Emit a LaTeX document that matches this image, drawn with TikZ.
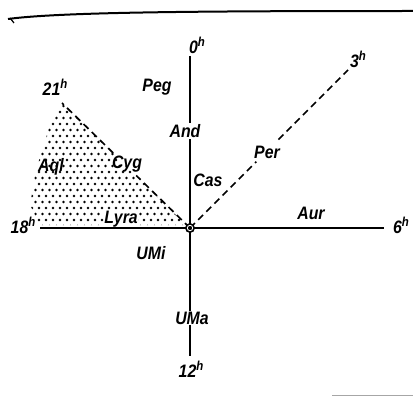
\documentclass[tikz,border=0pt]{standalone}
\usepackage{fontspec}
\setmainfont{Liberation Sans}
\newfontfamily\lblfont[FakeStretch=0.88]{Liberation Sans}
\usetikzlibrary{calc}
\newcommand{\hrs}{\raisebox{7pt}{\fontsize{13}{13}\selectfont h}}
\begin{document}
\begin{tikzpicture}[x=1pt,y=-1pt,
  lbl/.style={font=\lblfont\fontsize{18}{20}\selectfont\bfseries\itshape, inner sep=1pt},
  axis/.style={line width=2.2pt},
  dashline/.style={line width=1.7pt, dash pattern=on 7pt off 4.5pt},
  hr/.style={font=\lblfont\fontsize{18}{20}\selectfont\bfseries\itshape, inner sep=1pt}]
\useasboundingbox (0,0) rectangle (413,396);
% dotted region
\begin{scope}
\clip (62,103) -- (50,125) -- (36,170) -- (30,205) -- (40,225) -- (186,225) -- cycle;
\foreach \r in {0,...,21} {
  \pgfmathsetmacro{\yy}{100+\r*6}
  \pgfmathsetmacro{\off}{mod(\r,2)*3.5}
  \foreach \k in {0,...,24} {
    \fill (25+\off+\k*7,\yy) circle (1.4);
  }
}
\end{scope}
% top rule
\draw[line width=2pt] (8,19) .. controls (60,12) and (200,11) .. (413,11);
\draw[line width=1.2pt] (10,18) -- (14,23);
% bottom-right thin rule
\draw[gray!70, line width=1pt] (332,395) -- (413,395);
% centre
\coordinate (c) at (190,228);
% labels
\node[hr] (h0) at (197,45) {0\hrs};
\node[hr] (h3) at (358,59) {3\hrs};
\node[hr] (h6) at (401,225) {6\hrs};
\node[hr] (h12) at (191,369) {12\hrs};
\node[hr] (h18) at (23,225) {18\hrs};
\node[hr] (h21) at (55,87) {21\hrs};
\node[lbl] (peg) at (157,87) {Peg};
\node[lbl] (and) at (185,131) {And};
\node[lbl] (cas) at (208,180) {Cas};
\node[lbl] (per) at (267,152) {Per};
\node[lbl] (aur) at (311,213) {Aur};
\node[lbl] (cyg) at (127,164) {Cyg};
\node[lbl] (aql) at (51,167) {Aql};
\node[lbl, fill=white, inner sep=0.5pt] (lyr) at (121,219) {Lyra};
\node[lbl] (umi) at (151,253) {UMi};
\node[lbl] (uma) at (192,318) {UMa};
% axes
\coordinate (top) at (190,56);
\coordinate (bot) at (190,356);
\coordinate (left) at (40,228);
\coordinate (right) at (384,228);
\coordinate (e21) at (62,103);
\coordinate (e3) at (348,70);
\draw[axis] (top) -- (and.north -| top);
\draw[axis] (and.south -| top) -- (c);
\draw[axis] (c) -- (uma.north -| c);
\draw[axis] (uma.south -| c) -- (bot);
\draw[axis] (left) -- (right);
\draw[dashline] (c) -- ($(c)!0.42!(e21)$);
\draw[dashline] ($(c)!0.6!(e21)$) -- (e21);
\draw[dashline] (c) -- ($(c)!0.42!(e3)$);
\draw[dashline] ($(c)!0.56!(e3)$) -- (e3);
% centre mark
\fill[black] (c) circle (5);
\draw[white, line width=0.8pt] (c) circle (2.7);
\end{tikzpicture}
\end{document}
